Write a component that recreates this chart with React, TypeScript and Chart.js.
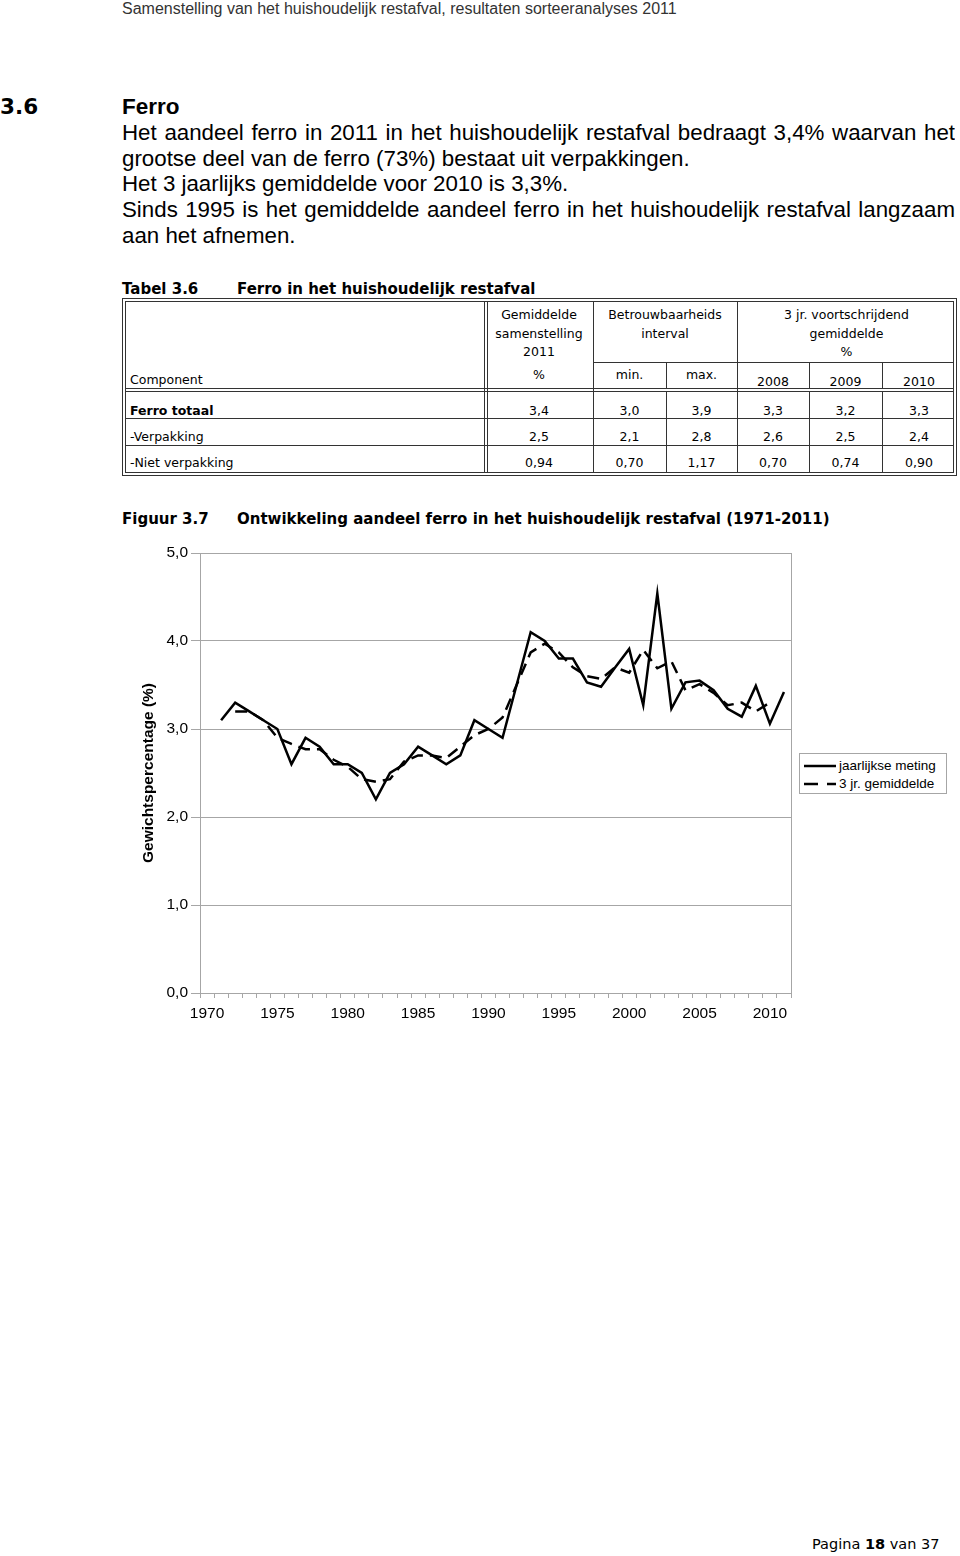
import React, { useEffect, useRef } from 'react';
import { Chart, registerables } from 'chart.js';

Chart.register(...registerables);

// ---------- chart data ----------
const years = [
  '1970', '1971', '1972', '1973', '1974', '1975', '1976', '1977', '1978', '1979',
  '1980', '1981', '1982', '1983', '1984', '1985', '1986', '1987', '1988', '1989',
  '1990', '1991', '1992', '1993', '1994', '1995', '1996', '1997', '1998', '1999',
  '2000', '2001', '2002', '2003', '2004', '2005', '2006', '2007', '2008', '2009',
  '2010', '2011',
];

const annualMeasurement = [
  null, 3.1, 3.3, 3.2, 3.1, 3.0, 2.6, 2.9, 2.8, 2.6,
  2.6, 2.5, 2.2, 2.5, 2.6, 2.8, 2.7, 2.6, 2.7, 3.1,
  3.0, 2.9, 3.5, 4.1, 4.0, 3.8, 3.8, 3.53, 3.48, 3.7,
  3.91, 3.27, 4.54, 3.23, 3.53, 3.55, 3.44, 3.23, 3.14, 3.49,
  3.06, 3.42,
];

const threeYearAverage = [
  null, null, 3.2, 3.2, 3.1, 2.9, 2.83, 2.77, 2.77, 2.65,
  2.57, 2.43, 2.4, 2.43, 2.63, 2.7, 2.7, 2.67, 2.8, 2.93,
  3.0, 3.13, 3.5, 3.87, 3.97, 3.87, 3.7, 3.6, 3.57, 3.7,
  3.64, 3.9, 3.69, 3.77, 3.44, 3.51, 3.41, 3.27, 3.3, 3.2,
  3.3, null,
];

const seriesLabels = ['jaarlijkse meting', '3 jr. gemiddelde'];
const yAxisTitle = 'Gewichtspercentage (%)';

// ---------- table data ----------
const tableComponents = ['Ferro totaal', '-Verpakking', '-Niet verpakking'];
const tableMean2011 = ['3,4', '2,5', '0,94'];
const tableMin = ['3,0', '2,1', '0,70'];
const tableMax = ['3,9', '2,8', '1,17'];
const tableAvg2008 = ['3,3', '2,6', '0,70'];
const tableAvg2009 = ['3,2', '2,5', '0,74'];
const tableAvg2010 = ['3,3', '2,4', '0,90'];

const ARIAL = '"Liberation Sans", Arial, Helvetica, sans-serif';
const VERDANA = '"DejaVu Sans", Verdana, sans-serif';
const GRID = '#a6a6a6';

const rightFrame = {
  id: 'rightFrame',
  beforeDatasetsDraw(chart: any) {
    const { ctx, chartArea } = chart;
    ctx.save();
    ctx.strokeStyle = GRID;
    ctx.lineWidth = 1;
    const x = Math.round(chartArea.right) + 0.5;
    ctx.beginPath();
    ctx.moveTo(x, chartArea.top);
    ctx.lineTo(x, chartArea.bottom);
    ctx.stroke();
    ctx.restore();
  },
};

function FerroChart() {
  const ref = useRef<HTMLCanvasElement | null>(null);
  useEffect(() => {
    if (!ref.current) return;
    const chart = new Chart(ref.current, {
      type: 'line',
      data: {
        labels: years,
        datasets: [
          {
            label: seriesLabels[0],
            data: annualMeasurement,
            borderColor: '#000',
            borderWidth: 2.5,
            pointRadius: 0,
            tension: 0,
            spanGaps: false,
          },
          {
            label: seriesLabels[1],
            data: threeYearAverage,
            borderColor: '#000',
            borderWidth: 2.5,
            borderDash: [12, 7],
            pointRadius: 0,
            tension: 0,
            spanGaps: false,
          },
        ],
      },
      options: {
        responsive: false,
        animation: false,
        devicePixelRatio: 1,
        layout: { padding: { top: 13, right: 169, bottom: 0, left: 0 } },
        plugins: { legend: { display: false }, tooltip: { enabled: false } },
        scales: {
          x: {
            type: 'category',
            offset: true,
            grid: {
              offset: true,
              drawOnChartArea: false,
              drawTicks: true,
              tickLength: 5,
              color: GRID,
            },
            border: { display: true, color: GRID },
            ticks: {
              autoSkip: false,
              maxRotation: 0,
              minRotation: 0,
              padding: 6,
              color: '#000',
              font: { family: ARIAL, size: 15.5 },
              callback: (_v: any, i: number) => (Number(years[i]) % 5 === 0 ? years[i] : ''),
            },
            afterFit: (s: any) => {
              s.height = 47;
            },
          },
          y: {
            min: 0,
            max: 5,
            grid: { color: GRID, drawTicks: true, tickLength: 9 },
            border: { display: true, color: GRID },
            ticks: {
              stepSize: 1,
              padding: 3,
              color: '#000',
              font: { family: ARIAL, size: 15.5 },
              callback: (v: any) => Number(v).toFixed(1).replace('.', ','),
            },
            title: {
              display: true,
              text: yAxisTitle,
              color: '#000',
              padding: { top: 9, bottom: 0 },
              font: { family: ARIAL, size: 15.5, weight: 'bold' },
            },
            afterFit: (s: any) => {
              s.width = 70;
            },
          },
        },
      },
      plugins: [rightFrame],
    } as any);
    return () => chart.destroy();
  }, []);
  return (
    <canvas
      ref={ref}
      width={830}
      height={500}
      style={{ position: 'absolute', left: 130, top: 540, width: 830, height: 500 }}
    />
  );
}

function Txt(props: {
  x: number;
  y: number;
  size: number;
  family?: string;
  bold?: boolean;
  center?: boolean;
  width?: number;
  justify?: boolean;
  lh?: number;
  color?: string;
  children: React.ReactNode;
}) {
  const lh = props.lh ?? Math.round(props.size * 1.3);
  const style: React.CSSProperties = {
    position: 'absolute',
    top: props.y - lh / 2,
    left: props.x,
    lineHeight: lh + 'px',
    height: lh,
    fontSize: props.size,
    fontFamily: props.family ?? ARIAL,
    fontWeight: props.bold ? 'bold' : 'normal',
    color: props.color ?? '#000',
    whiteSpace: 'nowrap',
  };
  if (props.center) style.transform = 'translateX(-50%)';
  if (props.width) {
    style.width = props.width;
  }
  if (props.justify) {
    style.textAlign = 'justify';
    (style as any).textAlignLast = 'justify';
    style.whiteSpace = 'normal';
    style.overflow = 'hidden';
  }
  return <div style={style}>{props.children}</div>;
}

function HL({ x1, x2, y }: { x1: number; x2: number; y: number }) {
  return <div style={{ position: 'absolute', left: x1, top: y, width: x2 - x1, height: 1, background: '#333' }} />;
}
function VL({ x, y1, y2 }: { x: number; y1: number; y2: number }) {
  return <div style={{ position: 'absolute', left: x, top: y1, width: 1, height: y2 - y1, background: '#333' }} />;
}

function Table() {
  const L = 122;
  const R = 956;
  const T = 298;
  const B = 475;
  const rowY = [411, 437, 463];
  const colCenters = [539, 629.5, 701.5, 773, 845.5, 919];
  const cols = [tableMean2011, tableMin, tableMax, tableAvg2008, tableAvg2009, tableAvg2010];
  const ts = 12.5;
  return (
    <>
      {/* outer double border */}
      <HL x1={L} x2={R + 1} y={T} />
      <HL x1={L + 3} x2={R - 2} y={T + 3} />
      <HL x1={L} x2={R + 1} y={B} />
      <HL x1={L + 3} x2={R - 2} y={B - 3} />
      <VL x={L} y1={T} y2={B + 1} />
      <VL x={L + 3} y1={T + 3} y2={B - 2} />
      <VL x={R} y1={T} y2={B + 1} />
      <VL x={R - 3} y1={T + 3} y2={B - 2} />
      {/* header separator double */}
      <HL x1={L + 3} x2={R - 2} y={388} />
      <HL x1={L + 3} x2={R - 2} y={391} />
      {/* first column double separator */}
      <VL x={484} y1={T + 3} y2={B - 2} />
      <VL x={487} y1={T + 3} y2={B - 2} />
      {/* other columns */}
      <VL x={593} y1={T + 3} y2={B - 2} />
      <VL x={737} y1={T + 3} y2={B - 2} />
      <VL x={666} y1={362} y2={388} />
      <VL x={666} y1={391} y2={B - 2} />
      <VL x={809} y1={362} y2={388} />
      <VL x={809} y1={391} y2={B - 2} />
      <VL x={882} y1={362} y2={388} />
      <VL x={882} y1={391} y2={B - 2} />
      <HL x1={593} x2={R - 2} y={362} />
      {/* row separators */}
      <HL x1={L + 3} x2={R - 2} y={418} />
      <HL x1={L + 3} x2={R - 2} y={445} />

      {/* header texts */}
      <Txt x={539} y={315} size={ts} family={VERDANA} center>Gemiddelde</Txt>
      <Txt x={539} y={334} size={ts} family={VERDANA} center>samenstelling</Txt>
      <Txt x={539} y={352} size={ts} family={VERDANA} center>2011</Txt>
      <Txt x={539} y={375} size={ts} family={VERDANA} center>%</Txt>
      <Txt x={665} y={315} size={ts} family={VERDANA} center>Betrouwbaarheids</Txt>
      <Txt x={665} y={334} size={ts} family={VERDANA} center>interval</Txt>
      <Txt x={846.5} y={315} size={ts} family={VERDANA} center>3 jr. voortschrijdend</Txt>
      <Txt x={846.5} y={334} size={ts} family={VERDANA} center>gemiddelde</Txt>
      <Txt x={846.5} y={352} size={ts} family={VERDANA} center>%</Txt>
      <Txt x={629.5} y={375} size={ts} family={VERDANA} center>min.</Txt>
      <Txt x={701.5} y={375} size={ts} family={VERDANA} center>max.</Txt>
      <Txt x={773} y={382} size={ts} family={VERDANA} center>2008</Txt>
      <Txt x={845.5} y={382} size={ts} family={VERDANA} center>2009</Txt>
      <Txt x={919} y={382} size={ts} family={VERDANA} center>2010</Txt>
      <Txt x={130} y={380} size={ts} family={VERDANA}>Component</Txt>

      {tableComponents.map((c, i) => (
        <Txt key={'c' + i} x={130} y={rowY[i]} size={ts} family={VERDANA} bold={i === 0}>
          {c}
        </Txt>
      ))}
      {cols.map((col, ci) =>
        col.map((v, ri) => (
          <Txt key={'v' + ci + '-' + ri} x={colCenters[ci]} y={rowY[ri]} size={ts} family={VERDANA} center>
            {v}
          </Txt>
        ))
      )}
    </>
  );
}

function Legend() {
  return (
    <div
      style={{
        position: 'absolute',
        left: 799,
        top: 753,
        width: 146,
        height: 39,
        border: '1px solid ' + GRID,
        background: '#fff',
      }}
    >
      <svg width={40} height={40} style={{ position: 'absolute', left: 3, top: 0 }}>
        <line x1={1} x2={33} y1={12} y2={12} stroke="#000" strokeWidth={2.5} />
        <line x1={1} x2={15} y1={30} y2={30} stroke="#000" strokeWidth={2.5} />
        <line x1={24} x2={33} y1={30} y2={30} stroke="#000" strokeWidth={2.5} />
      </svg>
      <Txt x={39} y={12} size={13.5} lh={16}>{seriesLabels[0]}</Txt>
      <Txt x={39} y={30} size={13.5} lh={16}>{seriesLabels[1]}</Txt>
    </div>
  );
}

export default function App() {
  const body = 22.3;
  const lh = 26;
  return (
    <div
      style={{
        position: 'absolute',
        left: 0,
        top: 0,
        width: 960,
        height: 1556,
        background: '#fff',
        overflow: 'hidden',
      }}
    >
      <Txt x={122} y={9} size={16} lh={18} color="#333">
        Samenstelling van het huishoudelijk restafval, resultaten sorteeranalyses 2011
      </Txt>

      <Txt x={0} y={107} size={21.5} family={VERDANA} bold lh={lh}>3.6</Txt>
      <Txt x={122} y={107} size={22.5} bold lh={lh}>Ferro</Txt>
      <Txt x={122} y={133} size={body} lh={lh} width={833} justify>
        Het aandeel ferro in 2011 in het huishoudelijk restafval bedraagt 3,4% waarvan het
      </Txt>
      <Txt x={122} y={159} size={body} lh={lh}>grootse deel van de ferro (73%) bestaat uit verpakkingen.</Txt>
      <Txt x={122} y={184} size={body} lh={lh}>Het 3 jaarlijks gemiddelde voor 2010 is 3,3%.</Txt>
      <Txt x={122} y={210} size={body} lh={lh} width={833} justify>
        Sinds 1995 is het gemiddelde aandeel ferro in het huishoudelijk restafval langzaam
      </Txt>
      <Txt x={122} y={236} size={body} lh={lh}>aan het afnemen.</Txt>

      <Txt x={122} y={289} size={15} family={VERDANA} bold>Tabel 3.6</Txt>
      <Txt x={237} y={289} size={15} family={VERDANA} bold>Ferro in het huishoudelijk restafval</Txt>

      <Table />

      <Txt x={122} y={519} size={15} family={VERDANA} bold>Figuur 3.7</Txt>
      <Txt x={237} y={519} size={15} family={VERDANA} bold>
        Ontwikkeling aandeel ferro in het huishoudelijk restafval (1971-2011)
      </Txt>

      <FerroChart />
      <Legend />

      <Txt x={812} y={1544} size={14.5} family={VERDANA}>
        Pagina <b>18</b> van 37
      </Txt>
    </div>
  );
}
